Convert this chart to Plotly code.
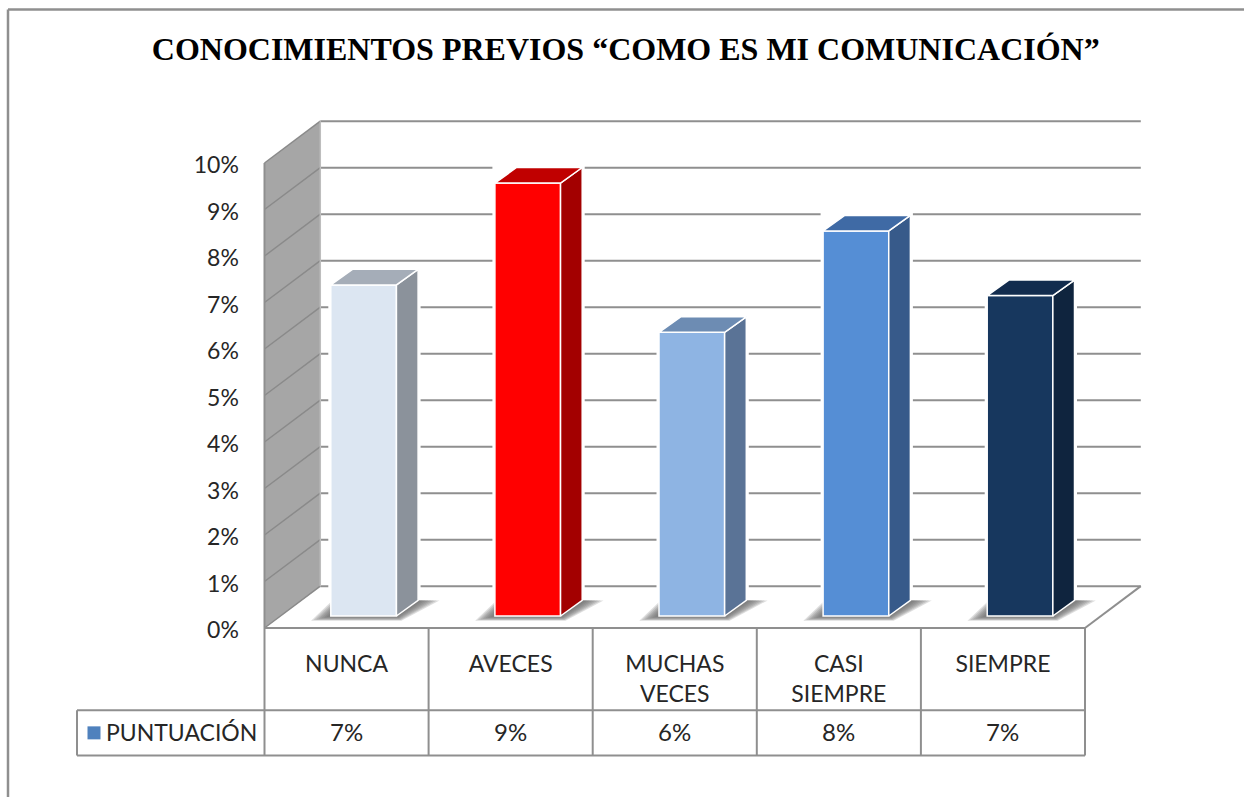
import plotly.graph_objects as go

# ---- data ----
title_text = "CONOCIMIENTOS PREVIOS “COMO ES MI COMUNICACIÓN”"
series_name = "PUNTUACIÓN"
categories = ["NUNCA", "AVECES", "MUCHAS<br>VECES", "CASI<br>SIEMPRE", "SIEMPRE"]
values = [7.12, 9.31, 6.10, 8.28, 6.89]
table_labels = ["7%", "9%", "6%", "8%", "7%"]
y_ticks = [0, 1, 2, 3, 4, 5, 6, 7, 8, 9, 10]
y_tick_labels = ["0%", "1%", "2%", "3%", "4%", "5%", "6%", "7%", "8%", "9%", "10%"]

# ---- styles ----
front_colors = ["#dce6f2", "#ff0000", "#8eb4e3", "#558ed5", "#17375e"]
side_colors = ["#8b929b", "#a30000", "#5a7396", "#375a8a", "#0f243e"]
top_colors = ["#a5adb8", "#c00000", "#6d8cb3", "#3f6aa5", "#122c4e"]
GRID = "#8f8f8f"
WALL = "#a6a6a6"
TEXT = "#262626"
FONT = "Lato"

# ---- geometry in axis units (x: one unit per category, y: percent) ----
W, H = 1244, 797
PX_X = 164.1
PX_Y = 46.5
X0_PX, Y0_PX = 264.5, 628
x_range = [-X0_PX / PX_X, (W - X0_PX) / PX_X]
y_range = [(Y0_PX - H) / PX_Y, Y0_PX / PX_Y]

WALL_DX, WALL_DY = 0.34, 0.90
BAR_W = 0.40
BAR_OFF = 0.104
BAR_BASE = 0.258
BAR_DX, BAR_DY = 0.132, 0.335
n = len(categories)
centers = [i + 0.5 for i in range(n)]
bar_x = [c + BAR_OFF for c in centers]
TABLE_ROW1 = -1.77
TABLE_ROW2 = -2.74
TABLE_LEFT = (77 - X0_PX) / PX_X

fig = go.Figure()
shapes = []


def line(x0, y0, x1, y1, color=GRID, width=2, layer="below"):
    shapes.append(dict(type="line", xref="x", yref="y", x0=x0, y0=y0, x1=x1, y1=y1,
                       line=dict(color=color, width=width), layer=layer))


def poly(xs, ys, fill, line_color="rgba(0,0,0,0)", lw=0):
    fig.add_trace(go.Scatter(x=xs + xs[:1], y=ys + ys[:1], mode="lines", fill="toself",
                             fillcolor=fill, line=dict(color=line_color, width=lw),
                             hoverinfo="skip", showlegend=False))


def shape_poly(xs, ys, fill):
    path = "M " + " L ".join(f"{a:.4f},{b:.4f}" for a, b in zip(xs, ys)) + " Z"
    shapes.append(dict(type="path", xref="x", yref="y", path=path, fillcolor=fill,
                       line=dict(width=0), layer="below"))


# side wall
poly([0, WALL_DX, WALL_DX, 0],
     [0, WALL_DY, y_ticks[-1] + WALL_DY, y_ticks[-1]], WALL)

# gridlines on both walls
for t in y_ticks:
    line(WALL_DX, t + WALL_DY, n + WALL_DX, t + WALL_DY)
for t in y_ticks:
    fig.add_trace(go.Scatter(x=[0, WALL_DX], y=[t, t + WALL_DY], mode="lines",
                             line=dict(color="#8a8a8a", width=1.5),
                             hoverinfo="skip", showlegend=False))
# wall edges
fig.add_trace(go.Scatter(x=[0, 0], y=[0, y_ticks[-1]], mode="lines",
                         line=dict(color=GRID, width=2), hoverinfo="skip", showlegend=False))
fig.add_trace(go.Scatter(x=[WALL_DX, WALL_DX], y=[WALL_DY, y_ticks[-1] + WALL_DY], mode="lines",
                         line=dict(color="#bdbdbd", width=1.5), hoverinfo="skip", showlegend=False))
# floor right edge
line(n, 0, n + WALL_DX, WALL_DY)

for i, v in enumerate(values):
    xl = bar_x[i] - BAR_W / 2
    xr = bar_x[i] + BAR_W / 2
    top = BAR_BASE + v
    # white halo that breaks the gridlines around each bar
    shapes.append(dict(type="rect", xref="x", yref="y", x0=xl, x1=xr + BAR_DX,
                       y0=BAR_BASE, y1=top + BAR_DY, fillcolor="#ffffff",
                       line=dict(color="#ffffff", width=5), layer="below"))
    # floor shadow: nested translucent footprints
    for k in range(7):
        s = 1 - k * 0.13
        shape_poly([xl - 0.12 * s, xr + 0.03 * s, xr + BAR_DX + 0.13 * s, xr + BAR_DX, xl],
                   [BAR_BASE - 0.10 * s, BAR_BASE - 0.10 * s, BAR_BASE + BAR_DY,
                    BAR_BASE + BAR_DY, BAR_BASE + 0.30 * s],
                   "rgba(105,105,105,0.22)")

# side and top faces
for i, v in enumerate(values):
    xl = bar_x[i] - BAR_W / 2
    xr = bar_x[i] + BAR_W / 2
    top = BAR_BASE + v
    poly([xr, xr + BAR_DX, xr + BAR_DX, xr],
         [BAR_BASE, BAR_BASE + BAR_DY, top + BAR_DY, top],
         side_colors[i], "#ffffff", 1.5)
    poly([xl, xl + BAR_DX, xr + BAR_DX, xr],
         [top, top + BAR_DY, top + BAR_DY, top],
         top_colors[i], "#ffffff", 1.5)

# front faces
fig.add_trace(go.Bar(x=bar_x, y=values, base=BAR_BASE, width=BAR_W, name=series_name,
                     marker=dict(color=front_colors, line=dict(color="#ffffff", width=1.5)),
                     showlegend=False,
                     hovertemplate="%{y:.1f}%<extra></extra>"))

# data table
line(0, 0, n, 0, layer="above")
for i in range(n + 1):
    line(i, 0, i, TABLE_ROW2, layer="above")
line(TABLE_LEFT, TABLE_ROW1, n, TABLE_ROW1, layer="above")
line(TABLE_LEFT, TABLE_ROW2, n, TABLE_ROW2, layer="above")
line(TABLE_LEFT, TABLE_ROW1, TABLE_LEFT, TABLE_ROW2, layer="above")

row_mid = (TABLE_ROW1 + TABLE_ROW2) / 2
annotations = [dict(x=c, y=row_mid + 0.02, xref="x", yref="y", text=t, showarrow=False,
                    font=dict(family=FONT, size=24, color=TEXT))
               for c, t in zip(centers, table_labels)]
annotations.append(dict(x=-0.035, y=row_mid + 0.02, xref="x", yref="y", text=series_name, showarrow=False,
                        xanchor="right", font=dict(family=FONT, size=23, color=TEXT)))
fig.add_trace(go.Scatter(x=[(94 - X0_PX) / PX_X], y=[row_mid], mode="markers",
                         marker=dict(symbol="square", size=13, color="#4f81bd"),
                         hoverinfo="skip", showlegend=False))

fig.update_layout(
    width=W, height=H, margin=dict(l=0, r=0, t=0, b=0),
    paper_bgcolor="#ffffff", plot_bgcolor="#ffffff", showlegend=False,
    title=dict(text="<b>" + title_text + "</b>", x=0.503, xanchor="center",
               y=1 - 49 / H, yanchor="middle",
               font=dict(family="Liberation Serif", size=32, color="#000000")),
    xaxis=dict(range=x_range, anchor="free", position=(H - Y0_PX) / H, domain=[0, 1],
               showgrid=False, zeroline=False, showline=False,
               tickmode="array", tickvals=centers, ticktext=categories, tickangle=0,
               ticks="outside", ticklen=15, tickcolor="rgba(0,0,0,0)",
               tickfont=dict(family=FONT, size=23, color=TEXT)),
    yaxis=dict(range=y_range, anchor="free", position=X0_PX / W, domain=[0, 1],
               showgrid=False, zeroline=False, showline=False,
               tickmode="array", tickvals=y_ticks, ticktext=y_tick_labels,
               ticks="outside", ticklen=21, tickcolor="rgba(0,0,0,0)",
               ticklabelshift=2,
               tickfont=dict(family=FONT, size=23, color=TEXT)),
    shapes=shapes + [
        dict(type="line", xref="paper", yref="paper", x0=8 / W, x1=8 / W, y0=0, y1=1 - 9.5 / H,
             line=dict(color=GRID, width=2.5), layer="above"),
        dict(type="line", xref="paper", yref="paper", x0=8 / W, x1=1, y0=1 - 9.5 / H, y1=1 - 9.5 / H,
             line=dict(color=GRID, width=2.5), layer="above"),
    ],
    annotations=annotations,
)

fig.write_html("out.html", post_script="document.body.style.margin='0';document.body.style.overflow='hidden';",
               config=dict(displayModeBar=False))
